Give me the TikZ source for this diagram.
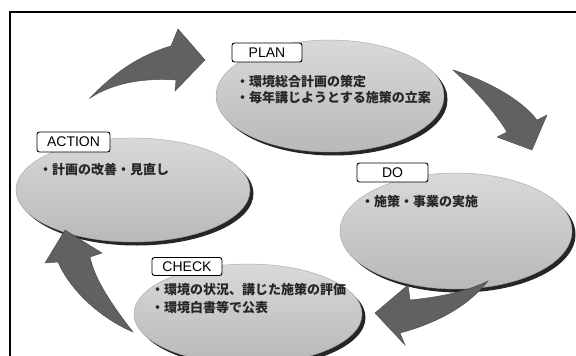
\documentclass[tikz,border=0pt]{standalone}
\usepackage{fontspec}
\setmainfont{Liberation Sans}
\newfontfamily\jp{Noto Sans CJK JP}
\usetikzlibrary{shapes.geometric,shadows}
\tikzset{
  oval/.style={ellipse, inner sep=0pt, top color=gray!30, bottom color=gray!55,
    draw=gray!70, line width=0.4pt,
    drop shadow={shadow xshift=3.5pt, shadow yshift=-3.5pt, fill=black!85, opacity=1}},
  tag/.style={draw=black, fill=white, rounded corners=2.5pt, line width=0.9pt,
    inner sep=0pt, font=\fontsize{14}{16}\selectfont},
  jtext/.style={anchor=west, inner sep=0pt, font=\jp\bfseries\fontsize{13}{15}\selectfont, text=black!85},
  bigarrow/.style={fill=black!62, draw=black!72, line width=0.4pt},
  frameline/.style={line width=1.4pt, black}
}
\begin{document}
\begin{tikzpicture}[x=1pt,y=-1pt]
\path[use as bounding box, clip] (0,0) rectangle (576,356);
\fill[white] (0,0) rectangle (576,356);
% frame
\coordinate (ftl) at (10,12);
\coordinate (ftr) at (577,12);
\coordinate (fbl) at (10,357);
\draw[frameline] (ftr) -- (ftl) -- (fbl);

% ellipses
\node[oval, minimum width=228pt, minimum height=112pt] (planov) at (330,96) {};
\node[oval, minimum width=234pt, minimum height=104pt] (actionov) at (133,190) {};
\node[oval, minimum width=232pt, minimum height=116pt] (doov) at (456,231) {};
\node[oval, minimum width=228pt, minimum height=100pt] (checkov) at (248,314) {};

% arrows
\path[bigarrow] (90,98) .. controls (115,72) and (140,55) .. (171,46) -- (178,29) -- (205,60) -- (175,91) -- (176,80) .. controls (145,78) and (115,82) .. cycle;
\path[bigarrow] (453,70) .. controls (485,80) and (520,98) .. (537,120) -- (547,115) -- (532,150) -- (497,137) -- (507,132) .. controls (495,112) and (475,90) .. cycle;
\path[bigarrow] (488,281) .. controls (465,292) and (440,297) .. (410,300) -- (408,285) -- (375,313) -- (405,345) -- (400,333) .. controls (430,325) and (465,310) .. cycle;
\path[bigarrow] (133,332) .. controls (112,305) and (95,280) .. (90,257) -- (102,253) -- (65,230) -- (45,263) -- (58,262) .. controls (70,290) and (100,318) .. cycle;

% tags
\node[tag, minimum width=70pt, minimum height=19pt] (plan) at (267,52.5) {PLAN};
\node[tag, minimum width=71pt, minimum height=19pt] (do) at (392.5,172.5) {DO};
\node[tag, minimum width=70pt, minimum height=18pt] (check) at (187,266.5) {CHECK};
\node[tag, minimum width=73pt, minimum height=20pt] (action) at (73.5,142) {ACTION};

% texts
\node[jtext] (p1) at (236,82) {・環境総合計画の策定};
\node[jtext] (p2) at (236,98) {・毎年講じようとする施策の立案};
\node[jtext] (d1) at (361,202) {・施策・事業の実施};
\node[jtext] (c1) at (151,290) {・環境の状況、講じた施策の評価};
\node[jtext] (c2) at (151,308) {・環境白書等で公表};
\node[jtext] (a1) at (39,170) {・計画の改善・見直し};
\end{tikzpicture}
\end{document}
